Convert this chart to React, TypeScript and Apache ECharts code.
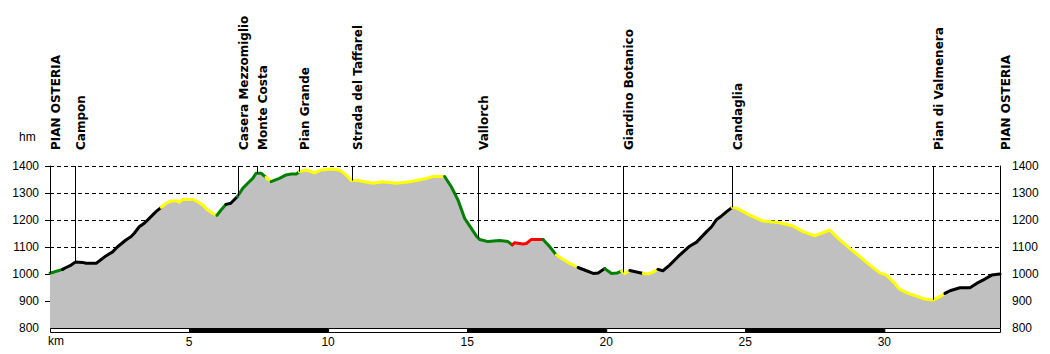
import { useEffect, useRef } from "react";
import * as echarts from "echarts";

// Profile: distance (km) and elevation (m)
const distKm = [
  0.0, 0.45, 0.58, 0.76, 0.91, 1.17, 1.3, 1.66, 1.77, 2.01, 2.25, 2.43, 2.73, 2.91, 3.03, 3.21, 3.39, 3.57, 3.81,
  4.0, 4.17, 4.35, 4.59, 4.65, 4.77, 5.13, 5.31, 5.49, 5.67, 5.85, 6.0, 6.15, 6.33, 6.5, 6.74, 6.93, 7.11, 7.29,
  7.41, 7.59, 7.77, 7.95, 8.25, 8.49, 8.67, 8.85, 8.97, 9.21, 9.51, 9.75, 10.11, 10.41, 10.65, 10.83, 11.07, 11.61,
  11.97, 12.45, 12.93, 13.53, 13.77, 14.19, 14.43, 14.67, 14.91, 15.15, 15.33, 15.45, 15.75, 16.17, 16.47, 16.62,
  16.71, 17.01, 17.13, 17.31, 17.73, 17.97, 18.21, 18.39, 18.69, 18.99, 19.29, 19.53, 19.71, 19.95, 20.19, 20.4,
  20.55, 20.67, 20.85, 21.33, 21.5, 21.68, 21.86, 22.04, 22.28, 22.58, 23.0, 23.25, 23.61, 23.79, 23.97, 24.15,
  24.33, 24.53, 24.69, 25.16, 25.64, 26.0, 26.24, 26.72, 27.08, 27.5, 28.04, 28.34, 28.76, 29.12, 29.48, 29.84,
  30.08, 30.32, 30.56, 30.86, 31.16, 31.46, 31.76, 32.0, 32.18, 32.36, 32.72, 33.08, 33.32, 33.56, 33.86, 34.16,
];
const elevM = [
  1003, 1017, 1024, 1033, 1044, 1043, 1040, 1040, 1048, 1067, 1082, 1101, 1126, 1138, 1151, 1175, 1188, 1206, 1231,
  1247, 1262, 1270, 1270, 1265, 1276, 1276, 1268, 1256, 1237, 1225, 1217, 1237, 1258, 1262, 1287, 1317, 1336, 1354,
  1373, 1373, 1358, 1342, 1354, 1367, 1370, 1370, 1379, 1385, 1375, 1385, 1389, 1385, 1367, 1346, 1346, 1336,
  1342, 1336, 1342, 1354, 1361, 1361, 1323, 1274, 1206, 1169, 1141, 1128, 1120, 1124, 1120, 1108,
  1116, 1111, 1113, 1128, 1128, 1101, 1070, 1058, 1039, 1024, 1012, 1002, 1004, 1020, 1002, 1004,
  1011, 1002, 1013, 1002, 1000, 1007, 1017, 1012, 1033, 1064, 1103, 1118, 1157, 1175, 1202, 1215,
  1231, 1247, 1244, 1218, 1196, 1193, 1190, 1178, 1157, 1141, 1163, 1132, 1095, 1064, 1033, 1004,
  996, 971, 943, 928, 918, 907, 904, 916, 928, 938, 949, 949, 965, 978, 996, 1000,
];
// Surface colour of each segment (from point i to point i+1)
const segColor = [
  "g", "k", "k", "k", "k", "k", "k", "k", "k", "k", "k", "k", "k", "k", "k", "k", "k", "k", "k",
  "y", "y", "y", "y", "y", "y", "y", "y", "y", "y", "y", "g", "g", "k", "k", "g", "g", "g", "g",
  "g", "g", "y", "g", "g", "g", "g", "g", "y", "y", "y", "y", "y", "y", "y", "y", "y", "y",
  "y", "y", "y", "y", "y", "g", "g", "g", "g", "g", "g", "g", "g", "g", "g", "r",
  "r", "r", "r", "r", "g", "g", "y", "y", "y", "k", "k", "k", "k", "g", "g", "g",
  "y", "y", "k", "y", "y", "y", "k", "k", "k", "k", "k", "k", "k", "k", "k", "k",
  "k", "y", "y", "y", "y", "y", "y", "y", "y", "y", "y", "y", "y", "y", "y", "y",
  "y", "y", "y", "y", "y", "y", "y", "y", "k", "k", "k", "k", "k", "k", "k",
];
const colorMap: Record<string, string> = { k: "#000000", g: "#008000", y: "#ffff00", r: "#ff0000" };

// Waypoints
const markerNames = [
  "PIAN OSTERIA", "Campon", "Casera Mezzomiglio", "Monte Costa", "Pian Grande", "Strada del Taffarel",
  "Vallorch", "Giardino Botanico", "Candaglia", "Pian di Valmenera", "PIAN OSTERIA",
];
const markerKm = [0, 0.91, 6.75, 7.45, 8.97, 10.85, 15.39, 20.62, 24.53, 31.76, 34.16];

// Scale bar bands (km start, km end, filled?)
const bandStart = [0, 5, 10, 15, 20, 25, 30];
const bandEnd = [5, 10, 15, 20, 25, 30, 34.16];
const bandFilled = [0, 1, 0, 1, 0, 1, 0];

const yMin = 800;
const yMax = 1400;
const yStep = 100;
const xMax = 34.16;
const xStep = 5;

function elevAt(km: number): number {
  for (let i = 0; i < distKm.length - 1; i++) {
    if (km >= distKm[i] && km <= distKm[i + 1]) {
      const t = (km - distKm[i]) / (distKm[i + 1] - distKm[i] || 1);
      return elevM[i] + t * (elevM[i + 1] - elevM[i]);
    }
  }
  return elevM[elevM.length - 1];
}

export default function App() {
  const ref = useRef<HTMLDivElement>(null);
  useEffect(() => {
    if (!ref.current) return;
    const chart = echarts.init(ref.current, null, { renderer: "svg" });
    const profile = distKm.map((d, i) => [d, elevM[i]]);

    const runs: any[] = [];
    let start = 0;
    for (let i = 1; i <= segColor.length; i++) {
      if (i === segColor.length || segColor[i] !== segColor[start]) {
        runs.push({
          type: "line",
          data: profile.slice(start, i + 1),
          showSymbol: false,
          symbol: "none",
          z: 3,
          lineStyle: { color: colorMap[segColor[start]], width: 3, cap: "round", join: "round" },
          silent: true,
        });
        start = i;
      }
    }

    const axisFont = { fontFamily: "'Liberation Sans', Arial, sans-serif", fontSize: 12, color: "#000" };

    chart.setOption({
      animation: false,
      grid: { left: 50, right: 50, top: 166, bottom: 26, containLabel: false },
      xAxis: {
        type: "value",
        min: 0,
        max: xMax,
        interval: xStep,
        axisLine: { show: false },
        axisTick: { show: false },
        splitLine: { show: false },
        axisLabel: {
          ...axisFont,
          margin: 8,
          showMaxLabel: false,
          formatter: (v: number) => (v > 0 && v % 5 === 0 ? String(v) : ""),
        },
      },
      yAxis: [
        {
          type: "value",
          min: yMin,
          max: yMax,
          interval: yStep,
          position: "left",
          axisLine: { show: true, lineStyle: { color: "#000", width: 1 } },
          axisTick: { show: true, length: 5, lineStyle: { color: "#000" }, customValues: [900, 1000, 1100, 1200, 1300, 1400] },
          splitLine: { show: true, lineStyle: { color: "#000", type: [4, 3], width: 1 } },
          axisLabel: { ...axisFont, margin: 11, formatter: (v: number) => String(v) },
        },
        {
          type: "value",
          min: yMin,
          max: yMax,
          interval: yStep,
          position: "right",
          axisLine: { show: true, lineStyle: { color: "#000", width: 1 } },
          axisTick: { show: false },
          splitLine: { show: false },
          axisLabel: { ...axisFont, margin: 12, formatter: (v: number) => String(v) },
        },
      ],
      graphic: [
        { type: "text", left: 19, top: 131, style: { text: "hm", font: "12px 'Liberation Sans', Arial", fill: "#000" } },
        { type: "text", left: 48, top: 335, style: { text: "km", font: "12px 'Liberation Sans', Arial", fill: "#000" } },
      ],
      series: [
        {
          type: "line",
          data: profile,
          showSymbol: false,
          symbol: "none",
          z: 1,
          lineStyle: { width: 0, opacity: 0 },
          areaStyle: { color: "#c0c0c0", opacity: 1, origin: "start" },
          silent: true,
        },
        ...runs,
        {
          type: "custom",
          clip: false,
          z: 4,
          silent: true,
          data: markerKm.map((k, i) => [k, elevAt(k), i]),
          renderItem: (params: any, api: any) => {
            const km = api.value(0);
            const el = api.value(1);
            const idx = api.value(2);
            const top = api.coord([km, yMax]);
            const bot = api.coord([km, el]);
            const x = Math.round(top[0]) + 0.5;
            return {
              type: "group",
              children: [
                {
                  type: "line",
                  shape: { x1: x, y1: top[1], x2: x, y2: bot[1] },
                  style: { stroke: "#000", lineWidth: 1 },
                },
                {
                  type: "text",
                  x: x - 0.5,
                  y: top[1] - 16,
                  rotation: Math.PI / 2,
                  style: {
                    text: markerNames[idx],
                    fill: "#000",
                    font: "bold 12px 'DejaVu Sans', sans-serif",
                    align: "left",
                    verticalAlign: "top",
                  },
                },
              ],
            };
          },
        },
        {
          type: "custom",
          clip: false,
          z: 5,
          silent: true,
          data: bandStart.map((s, i) => [s, bandEnd[i], bandFilled[i]]),
          encode: { x: [0, 1] },
          renderItem: (params: any, api: any) => {
            const a = api.coord([api.value(0), yMin]);
            const b = api.coord([api.value(1), yMin]);
            const filled = api.value(2) === 1;
            return {
              type: "rect",
              shape: { x: a[0] + 0.5, y: a[1] + 0.5, width: b[0] - a[0], height: 4 },
              style: { fill: filled ? "#000" : "#fff", stroke: "#000", lineWidth: 1 },
            };
          },
        },
      ],
    });
    return () => chart.dispose();
  }, []);
  return <div ref={ref} style={{ position: "absolute", left: 0, top: 0, width: 1050, height: 354 }} />;
}
